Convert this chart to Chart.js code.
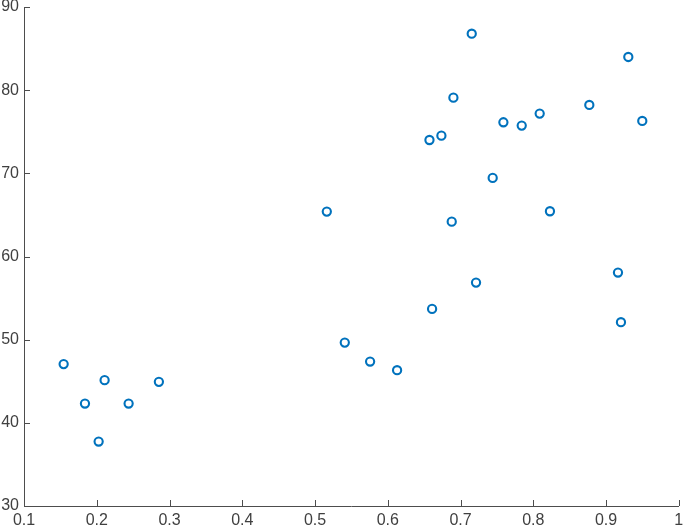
<!DOCTYPE html>
<html>
<head>
<meta charset="utf-8">
<script src="https://cdn.jsdelivr.net/npm/chart.js@4.4.1/dist/chart.umd.min.js"></script>
<style>
  html, body { margin: 0; padding: 0; background: #fff; }
  #wrap { width: 685px; height: 530px; }
</style>
</head>
<body>
<div id="wrap"><canvas id="c" width="685" height="530"></canvas></div>
<script>
const xValues = [0.1545, 0.2108, 0.2854, 0.1838, 0.2438, 0.2026,
  0.5162, 0.6879, 0.7213, 0.6609, 0.5409, 0.5757, 0.6128,
  0.7154, 0.9306, 0.6902, 0.8770, 0.8088, 0.7589, 0.7841, 0.9498,
  0.6737, 0.6573, 0.7442, 0.8229, 0.9164, 0.9205];
const yValues = [47.06, 45.13, 44.93, 42.32, 42.32, 37.75,
  65.40, 64.19, 56.86, 53.70, 49.65, 47.37, 46.33,
  86.79, 83.99, 79.10, 78.22, 77.18, 76.14, 75.74, 76.30,
  74.53, 74.01, 69.45, 65.44, 58.07, 52.10];
const xTicks = [0.1, 0.2, 0.3, 0.4, 0.5, 0.6, 0.7, 0.8, 0.9, 1];
const yTicks = [30, 40, 50, 60, 70, 80, 90];

const points = xValues.map((x, i) => ({ x: x, y: yValues[i] }));
const axisColor = '#4d4d4d';
const labelColor = '#404040';
const fontFamily = "'Liberation Sans', Arial, Helvetica, sans-serif";

const innerTicks = {
  id: 'innerTicks',
  afterDraw(chart) {
    const ctx = chart.ctx;
    const xs = chart.scales.x, ys = chart.scales.y;
    const area = chart.chartArea;
    ctx.save();
    ctx.strokeStyle = axisColor;
    ctx.lineWidth = 1;
    ctx.beginPath();
    xTicks.forEach(v => {
      const px = Math.round(xs.getPixelForValue(v)) + 0.5;
      ctx.moveTo(px, area.bottom);
      ctx.lineTo(px, area.bottom - 6);
    });
    yTicks.forEach(v => {
      const py = Math.round(ys.getPixelForValue(v)) + 0.5;
      ctx.moveTo(area.left, py);
      ctx.lineTo(area.left + 6, py);
    });
    ctx.stroke();
    ctx.restore();
  }
};

new Chart(document.getElementById('c'), {
  type: 'scatter',
  data: {
    datasets: [{
      data: points,
      borderColor: '#0072BD',
      backgroundColor: '#ffffff',
      pointRadius: 4.1,
      pointBorderWidth: 2.1,
      pointHoverRadius: 4.1,
      clip: false
    }]
  },
  options: {
    responsive: false,
    animation: false,
    events: [],
    layout: { padding: { left: 0, right: 6, top: 7, bottom: 0 } },
    plugins: { legend: { display: false }, tooltip: { enabled: false } },
    scales: {
      x: {
        type: 'linear',
        min: 0.1, max: 1,
        afterBuildTicks: s => { s.ticks = xTicks.map(v => ({ value: v })); },
        afterFit: s => { s.height = 24; s.paddingLeft = 0; s.paddingRight = 0; },
        grid: { display: true, drawOnChartArea: false, drawTicks: false, color: axisColor },
        border: { display: true, color: axisColor, width: 1 },
        ticks: {
          autoSkip: false, maxRotation: 0, padding: 5,
          color: labelColor,
          font: { family: fontFamily, size: 16 },
          callback: v => String(v)
        }
      },
      y: {
        type: 'linear',
        min: 30, max: 90,
        afterBuildTicks: s => { s.ticks = yTicks.map(v => ({ value: v })); },
        afterFit: s => { s.width = 24; s.paddingTop = 0; s.paddingBottom = 0; },
        grid: { display: true, drawOnChartArea: false, drawTicks: false, color: axisColor },
        border: { display: true, color: axisColor, width: 1 },
        ticks: {
          autoSkip: false, padding: 5,
          color: labelColor,
          font: { family: fontFamily, size: 16 },
          callback: v => String(v)
        }
      }
    }
  },
  plugins: [innerTicks]
});
</script>
</body>
</html>
